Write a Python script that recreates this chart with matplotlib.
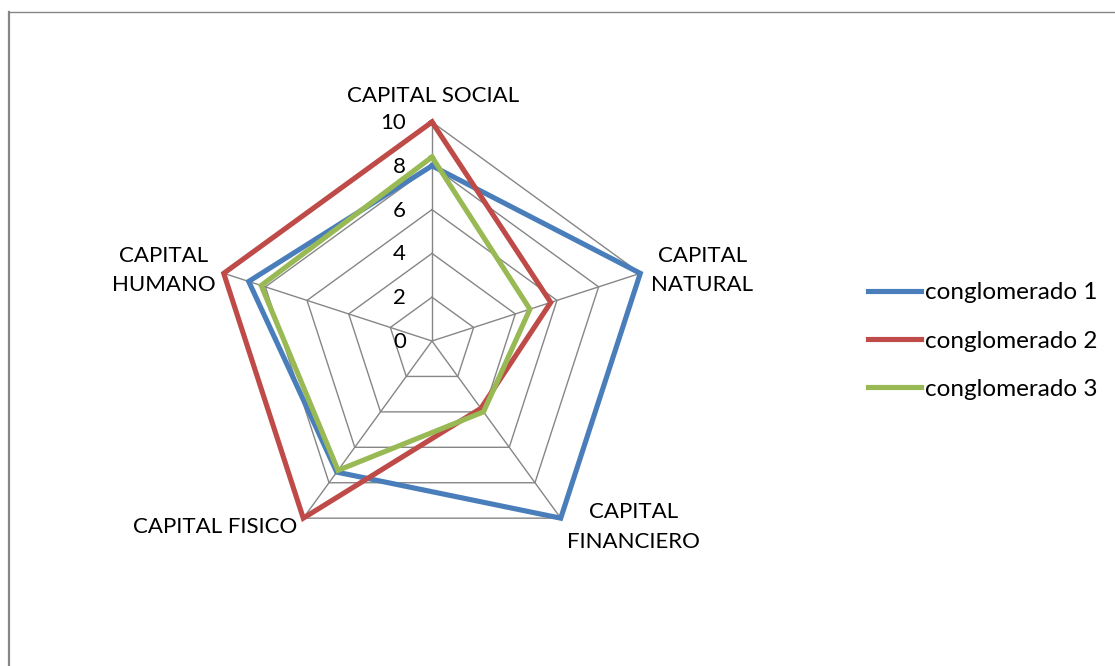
import numpy as np
import matplotlib.pyplot as plt
from matplotlib.lines import Line2D

plt.rcParams['font.family'] = ['Lato', 'DejaVu Sans']

categories = ['CAPITAL SOCIAL', 'CAPITAL\nNATURAL', 'CAPITAL\nFINANCIERO',
              'CAPITAL FISICO', 'CAPITAL\nHUMANO']
series_names = ['conglomerado 1', 'conglomerado 2', 'conglomerado 3']
conglomerado_1 = [8.0, 10.0, 10.0, 7.4, 8.8]
conglomerado_2 = [10.0, 5.7, 3.8, 10.0, 10.0]
conglomerado_3 = [8.4, 4.7, 4.0, 7.3, 8.2]
scale_ticks = [0, 2, 4, 6, 8, 10]

colors = ['#4A7EBB', '#BE4B48', '#98B954']
grid_color = '#868686'

W, H = 1115, 666
fig = plt.figure(figsize=(W / 100, H / 100), dpi=100)

# polar axes centred on (432, 341) px with radius ~219 px
cx, cy, rad = 432, 341, 219
ax = fig.add_axes([(cx - rad) / W, (H - cy - rad) / H, 2 * rad / W, 2 * rad / H],
                  projection='polar')
ax.set_theta_offset(np.pi / 2)
ax.set_theta_direction(-1)
ax.set_ylim(0, 10)
ax.set_axis_off()

n = len(categories)
theta = np.linspace(0, 2 * np.pi, n, endpoint=False)
theta_closed = np.append(theta, theta[0])

# pentagon grid and spokes
for v in scale_ticks[1:]:
    ax.plot(theta_closed, [v] * (n + 1), color=grid_color, lw=1, clip_on=False, zorder=1)
for t in theta:
    ax.plot([t, t], [0, 10], color=grid_color, lw=1, clip_on=False, zorder=1)

handles = []
for vals, col, name in zip([conglomerado_1, conglomerado_2, conglomerado_3],
                           colors, series_names):
    line, = ax.plot(theta_closed, vals + vals[:1], color=col, lw=3.7,
                    solid_joinstyle='miter', clip_on=False, zorder=3, label=name)
    handles.append(line)

# scale labels along the top spoke
for v in scale_ticks:
    ax.annotate(str(v), xy=(0, v), xytext=(-26, -1), textcoords='offset pixels',
                ha='right', va='center', fontsize=16, color='black', zorder=4)

# category labels
offsets = [(1, 26), (62, 3), (73, -9), (-88, -9), (-60, 3)]
for t, lab, off in zip(theta, categories, offsets):
    ax.annotate(lab, xy=(t, 10), xytext=off, textcoords='offset pixels',
                ha='center', va='center', fontsize=16, linespacing=1.6,
                multialignment='center', annotation_clip=False)

fig.legend(handles=handles, loc='center left', bbox_to_anchor=(868 / W, (H - 341) / H),
           frameon=False, fontsize=17.5, handlelength=2.18, handletextpad=0.16,
           labelspacing=1.12, borderpad=0, borderaxespad=0)

# outer chart frame
fig.add_artist(Line2D([8.5 / W, 8.5 / W], [0, (H - 12) / H], color=grid_color, lw=1.6))
fig.add_artist(Line2D([8.5 / W, 1], [(H - 12) / H, (H - 12) / H], color=grid_color, lw=1))

fig.savefig('out.png', dpi=100)
